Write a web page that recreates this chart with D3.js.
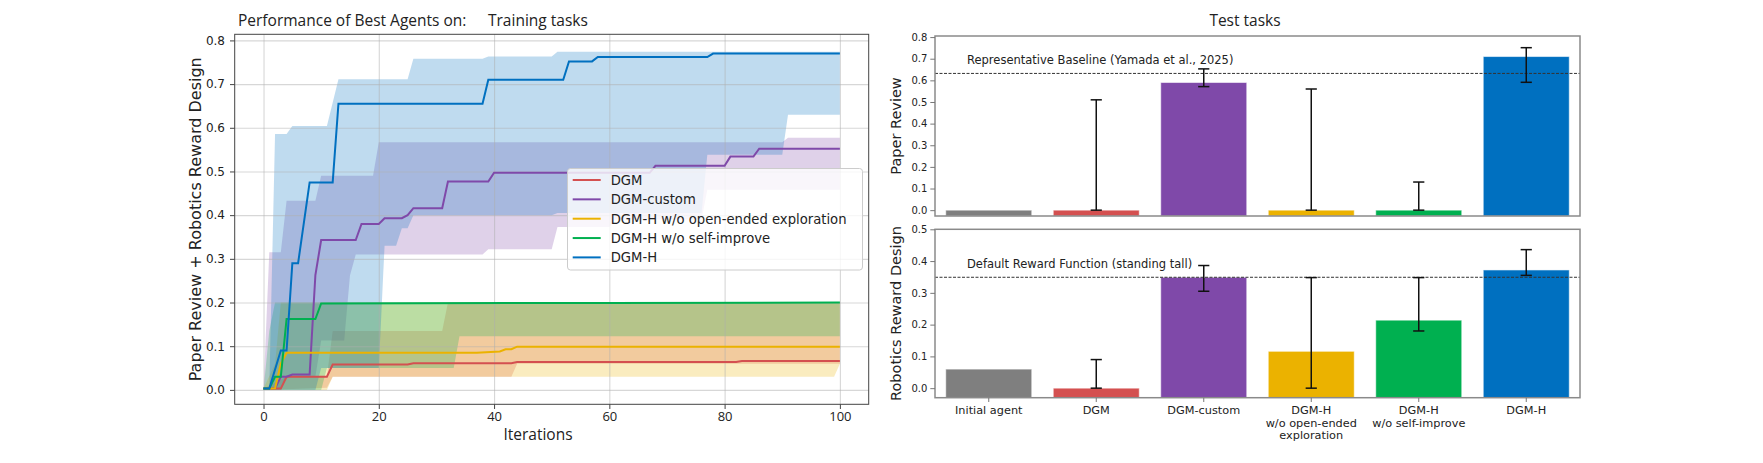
<!DOCTYPE html>
<html>
<head>
<meta charset="utf-8">
<script src="https://cdn.jsdelivr.net/npm/d3@7"></script>
<style>
  body { margin: 0; background: #fff; }
  svg { display: block; }
  .mpl text { font-family: "DejaVu Sans", sans-serif; fill: #222; }
</style>
</head>
<body>
<div id="chart"></div>
<script>
// ---------- data: training curves (iteration, score) ----------
let iterTicks = [0, 20, 40, 60, 80, 100];
let trainTicks = [0, 0.1, 0.2, 0.3, 0.4, 0.5, 0.6, 0.7, 0.8];
let seriesNames = ["DGM", "DGM-custom", "DGM-H w/o open-ended exploration", "DGM-H w/o self-improve", "DGM-H"];
let seriesColors = ["#d45050", "#7f49a9", "#ebb200", "#00b050", "#0070c0"];

let dgmLine = [[0, 0.003], [3, 0.003], [4, 0.03], [11, 0.03], [12, 0.058], [25, 0.058], [26, 0.061], [43, 0.061], [44, 0.064], [82, 0.064], [83, 0.066], [100, 0.066]];
let dgmHigh = [[0, 0.003], [4, 0.03], [11, 0.03], [12, 0.135], [31, 0.135], [32, 0.2], [100, 0.2]];
let dgmLow = [[0, 0], [11, 0.005], [12, 0.03], [43, 0.03], [44, 0.06], [100, 0.06]];

let customLine = [[0, 0.003], [2, 0.003], [3, 0.03], [4, 0.03], [5, 0.035], [8, 0.035], [9, 0.263], [10, 0.343], [16, 0.343], [17, 0.38], [20, 0.38], [21, 0.393], [24, 0.393], [25, 0.4], [26, 0.416], [31, 0.416], [32, 0.477], [39, 0.477], [40, 0.497], [67, 0.497], [68, 0.513], [80, 0.513], [81, 0.534], [85, 0.534], [86, 0.552], [100, 0.552]];
let customHigh = [[0, 0], [1, 0.315], [3, 0.315], [4, 0.433], [9, 0.433], [10, 0.49], [19, 0.49], [20, 0.567], [90, 0.567], [91, 0.577], [100, 0.577]];
let customLow = [[0, 0], [3, 0], [4, 0.03], [9, 0.03], [10, 0.113], [14, 0.113], [15, 0.262], [16, 0.31], [38, 0.31], [39, 0.322], [50, 0.322], [51, 0.373], [60, 0.373], [61, 0.39], [76, 0.39], [77, 0.458], [100, 0.458]];

let noOpenLine = [[0, 0.003], [2, 0.003], [3, 0.06], [4, 0.085], [37, 0.085], [41, 0.088], [42, 0.093], [43, 0.093], [44, 0.099], [100, 0.099]];
let noOpenHigh = [[0, 0.003], [2, 0.06], [3, 0.2], [100, 0.2]];
let noOpenLow = [[0, 0], [11, 0], [12, 0.03], [99, 0.03], [100, 0.06]];

let noSelfLine = [[0, 0.003], [1, 0.003], [2, 0.03], [3, 0.03], [4, 0.162], [9, 0.162], [10, 0.198], [60, 0.199], [100, 0.2]];
let noSelfHigh = [[0, 0], [1, 0.135], [2, 0.2], [100, 0.2]];
let noSelfLow = [[0, 0], [10, 0], [11, 0.05], [33, 0.05], [34, 0.123], [100, 0.123]];

let dgmhLine = [[0, 0.003], [1, 0.003], [3, 0.09], [4, 0.09], [5, 0.29], [6, 0.29], [8, 0.475], [12, 0.475], [13, 0.655], [38, 0.655], [39, 0.71], [52, 0.71], [53, 0.752], [57, 0.752], [58, 0.762], [77, 0.762], [78, 0.77], [100, 0.77]];
let dgmhHigh = [[0, 0.003], [1, 0.003], [2, 0.586], [4, 0.586], [5, 0.604], [11, 0.604], [13, 0.711], [25, 0.711], [26, 0.758], [38, 0.758], [39, 0.763], [50, 0.763], [51, 0.774], [100, 0.774]];
let dgmhLow = [[0, 0], [9, 0], [10, 0.05], [20, 0.05], [21, 0.33], [23, 0.33], [24, 0.37], [25, 0.37], [26, 0.4], [50, 0.4], [51, 0.405], [76, 0.405], [77, 0.538], [90, 0.538], [91, 0.63], [100, 0.63]];

// ---------- data: test task bars ----------
let barLabels = [["Initial agent"], ["DGM"], ["DGM-custom"], ["DGM-H", "w/o open-ended", "exploration"], ["DGM-H", "w/o self-improve"], ["DGM-H"]];
let barColors = ["#7f7f7f", "#d45050", "#7f49a9", "#ebb200", "#00b050", "#0070c0"];

let reviewTicks = [0, 0.1, 0.2, 0.3, 0.4, 0.5, 0.6, 0.7, 0.8];
let reviewValues = [0, 0, 0.59, 0, 0, 0.71];
let reviewErrLow = [null, 0, 0.571, 0, 0, 0.591];
let reviewErrHigh = [null, 0.51, 0.653, 0.56, 0.13, 0.751];
let reviewBaseline = 0.632;

let robotTicks = [0, 0.1, 0.2, 0.3, 0.4, 0.5];
let robotValues = [0.06, 0, 0.349, 0.116, 0.214, 0.372];
let robotErrLow = [null, 0, 0.305, 0, 0.18, 0.355];
let robotErrHigh = [null, 0.09, 0.386, 0.348, 0.348, 0.436];
let robotBaseline = 0.349;

// ---------- drawing ----------
let svgWidth = 1763;
let svgHeight = 463;

let svg = d3.select("#chart")
  .append("svg")
  .attr("class", "mpl")
  .attr("width", svgWidth)
  .attr("height", svgHeight);

svg.append("rect").attr("width", svgWidth).attr("height", svgHeight).attr("fill", "#fff");

// titles (slide text)
svg.append("text")
  .text("Performance of Best Agents on:")
  .attr("x", 238).attr("y", 25.5)
  .style("font-family", "'Open Sans', sans-serif").style("font-size", "15.5px");
svg.append("text")
  .text("Training tasks")
  .attr("x", 488).attr("y", 25.5)
  .style("font-family", "'Open Sans', sans-serif").style("font-size", "15.5px");
svg.append("text")
  .text("Test tasks")
  .attr("x", 1245).attr("y", 25.5)
  .attr("text-anchor", "middle")
  .style("font-family", "'Open Sans', sans-serif").style("font-size", "15.5px");

// ===== left: training curves =====
let pLeft = 234.7, pRight = 868.7, pTop = 34.3, pBottom = 404.3;
let xScale = d3.scaleLinear().domain([-5, 105]).range([pLeft, pRight]);
let yScale = d3.scaleLinear().domain([-0.033, 0.814]).range([pBottom, pTop]);

let lineGen = d3.line()
  .x((d) => xScale(d[0]))
  .y((d) => yScale(d[1]));

let bandPath = (high, low) => {
  return lineGen(high.concat(low.slice().reverse())) + "Z";
};

let series = [
  { line: dgmLine, high: dgmHigh, low: dgmLow },
  { line: customLine, high: customHigh, low: customLow },
  { line: noOpenLine, high: noOpenHigh, low: noOpenLow },
  { line: noSelfLine, high: noSelfHigh, low: noSelfLow },
  { line: dgmhLine, high: dgmhHigh, low: dgmhLow },
];

let plot = svg.append("g");

series.forEach((s, i) => {
  plot.append("path")
    .attr("d", bandPath(s.high, s.low))
    .attr("fill", seriesColors[i])
    .attr("fill-opacity", 0.25)
    .attr("stroke", "none");
});

// grid
plot.append("g")
  .attr("transform", "translate(0," + pBottom + ")")
  .call(d3.axisBottom(xScale).tickValues(iterTicks).tickSize(-(pBottom - pTop)).tickFormat(""))
  .call((g) => g.select(".domain").remove())
  .selectAll("line").attr("stroke", "#b0b0b0").attr("stroke-opacity", 0.5).attr("stroke-width", 1.1);
plot.append("g")
  .attr("transform", "translate(" + pLeft + ",0)")
  .call(d3.axisLeft(yScale).tickValues(trainTicks).tickSize(-(pRight - pLeft)).tickFormat(""))
  .call((g) => g.select(".domain").remove())
  .selectAll("line").attr("stroke", "#b0b0b0").attr("stroke-opacity", 0.5).attr("stroke-width", 1.1);

series.forEach((s, i) => {
  plot.append("path")
    .attr("d", lineGen(s.line))
    .attr("fill", "none")
    .attr("stroke", seriesColors[i])
    .attr("stroke-width", 2);
});

// frame
svg.append("rect")
  .attr("x", pLeft).attr("y", pTop)
  .attr("width", pRight - pLeft).attr("height", pBottom - pTop)
  .attr("fill", "none").attr("stroke", "#444").attr("stroke-width", 1);

// axes
let yAxisL = svg.append("g")
  .attr("transform", "translate(" + pLeft + ",0)")
  .call(d3.axisLeft(yScale).tickValues(trainTicks).tickFormat(d3.format(".1f")).tickSize(4.7).tickPadding(5));
yAxisL.select(".domain").remove();
yAxisL.selectAll("text").style("font-family", "DejaVu Sans").style("font-size", "12px").attr("fill", "#222");
yAxisL.selectAll("line").attr("stroke", "#444");

let xAxisL = svg.append("g")
  .attr("transform", "translate(0," + pBottom + ")")
  .call(d3.axisBottom(xScale).tickValues(iterTicks).tickSize(4.7).tickPadding(3));
xAxisL.select(".domain").remove();
xAxisL.selectAll("text").style("font-family", "'Open Sans', sans-serif").style("font-size", "13px").attr("fill", "#222");
xAxisL.selectAll("line").attr("stroke", "#444");

svg.append("text")
  .text("Iterations")
  .attr("x", 538).attr("y", 439.5)
  .attr("text-anchor", "middle")
  .style("font-family", "'Open Sans', sans-serif").style("font-size", "15.5px");

svg.append("text")
  .text("Paper Review + Robotics Reward Design")
  .attr("transform", "translate(195," + (pTop + pBottom) / 2 + ") rotate(-90)")
  .attr("text-anchor", "middle")
  .attr("dominant-baseline", "central")
  .style("font-size", "16px");

// legend
let legend = svg.append("g");
legend.append("rect")
  .attr("x", 567.5).attr("y", 168.5)
  .attr("width", 295).attr("height", 101.5)
  .attr("rx", 3)
  .attr("fill", "#fff").attr("fill-opacity", 0.8)
  .attr("stroke", "#cccccc").attr("stroke-width", 1);
seriesNames.forEach((name, i) => {
  let cy = 180 + i * 19.35;
  legend.append("line")
    .attr("x1", 572.7).attr("x2", 600.7)
    .attr("y1", cy).attr("y2", cy)
    .attr("stroke", seriesColors[i]).attr("stroke-width", 2);
  legend.append("text")
    .text(name)
    .attr("x", 610.7).attr("y", cy + 4.8)
    .style("font-size", "13.2px");
});

// ===== right: test task bars =====
let bLeft = 935, bRight = 1580;
let xBand = d3.scaleBand()
  .domain(d3.range(barLabels.length))
  .range([bLeft, bRight])
  .paddingInner(0.2)
  .paddingOuter(0.1);

let drawPanel = (cfg) => {
  let g = svg.append("g");
  let y = d3.scaleLinear().domain(cfg.domain).range([cfg.bottom, cfg.top]);
  let yMin = cfg.domain[0];

  g.selectAll("rect.bar")
    .data(cfg.values)
    .enter()
    .append("rect")
    .attr("class", "bar")
    .attr("x", (d, i) => xBand(i))
    .attr("width", xBand.bandwidth())
    .attr("y", (d) => y(d))
    .attr("height", (d) => y(yMin) - y(d))
    .attr("fill", (d, i) => barColors[i])
    .attr("stroke", "#ffffff")
    .attr("stroke-opacity", 0.55)
    .attr("stroke-width", 1);

  // baseline
  g.append("line")
    .attr("x1", bLeft).attr("x2", bRight)
    .attr("y1", y(cfg.baseline)).attr("y2", y(cfg.baseline))
    .attr("stroke", "#333").attr("stroke-width", 1)
    .attr("stroke-dasharray", "3,1.5");
  g.append("text")
    .text(cfg.baselineText)
    .attr("x", 967).attr("y", y(cfg.baseline) - 9)
    .style("font-size", "11.5px");

  // error bars
  cfg.values.forEach((v, i) => {
    if (cfg.errLow[i] === null) return;
    let cx = xBand(i) + xBand.bandwidth() / 2;
    let y1 = y(cfg.errLow[i]);
    let y2 = y(cfg.errHigh[i]);
    g.append("line").attr("x1", cx).attr("x2", cx).attr("y1", y1).attr("y2", y2)
      .attr("stroke", "#111").attr("stroke-width", 1.5);
    [y1, y2].forEach((yy) => {
      g.append("line").attr("x1", cx - 5.6).attr("x2", cx + 5.6).attr("y1", yy).attr("y2", yy)
        .attr("stroke", "#111").attr("stroke-width", 1.5);
    });
  });

  // frame
  g.append("rect")
    .attr("x", bLeft).attr("y", cfg.top)
    .attr("width", bRight - bLeft).attr("height", cfg.bottom - cfg.top)
    .attr("fill", "none").attr("stroke", "#8a8a8a").attr("stroke-width", 1.5);

  let ax = g.append("g")
    .attr("transform", "translate(" + bLeft + ",0)")
    .call(d3.axisLeft(y).tickValues(cfg.ticks).tickFormat(d3.format(".1f")).tickSize(4.7).tickPadding(3));
  ax.select(".domain").remove();
  ax.selectAll("text").style("font-family", "DejaVu Sans").style("font-size", "10px").attr("fill", "#222");
  ax.selectAll("line").attr("stroke", "#777");

  g.append("text")
    .text(cfg.label)
    .attr("transform", "translate(896," + (cfg.top + cfg.bottom) / 2 + ") rotate(-90)")
    .attr("text-anchor", "middle")
    .attr("dominant-baseline", "central")
    .style("font-size", "14.5px");

  return y;
};

drawPanel({
  top: 36, bottom: 216, domain: [-0.027, 0.805],
  ticks: reviewTicks, values: reviewValues,
  errLow: reviewErrLow, errHigh: reviewErrHigh,
  baseline: reviewBaseline,
  baselineText: "Representative Baseline (Yamada et al., 2025)",
  label: "Paper Review",
});

drawPanel({
  top: 229.3, bottom: 397.7, domain: [-0.03, 0.5],
  ticks: robotTicks, values: robotValues,
  errLow: robotErrLow, errHigh: robotErrHigh,
  baseline: robotBaseline,
  baselineText: "Default Reward Function (standing tall)",
  label: "Robotics Reward Design",
});

// category labels under the lower panel
let xAxisB = svg.append("g");
barLabels.forEach((lines, i) => {
  let cx = xBand(i) + xBand.bandwidth() / 2;
  xAxisB.append("line")
    .attr("x1", cx).attr("x2", cx).attr("y1", 397.7).attr("y2", 402)
    .attr("stroke", "#777");
  let t = xAxisB.append("text")
    .attr("text-anchor", "middle")
    .style("font-size", "11.3px");
  lines.forEach((s, j) => {
    t.append("tspan").attr("x", cx).attr("y", 414 + j * 12.7).text(s);
  });
});
</script>
</body>
</html>
